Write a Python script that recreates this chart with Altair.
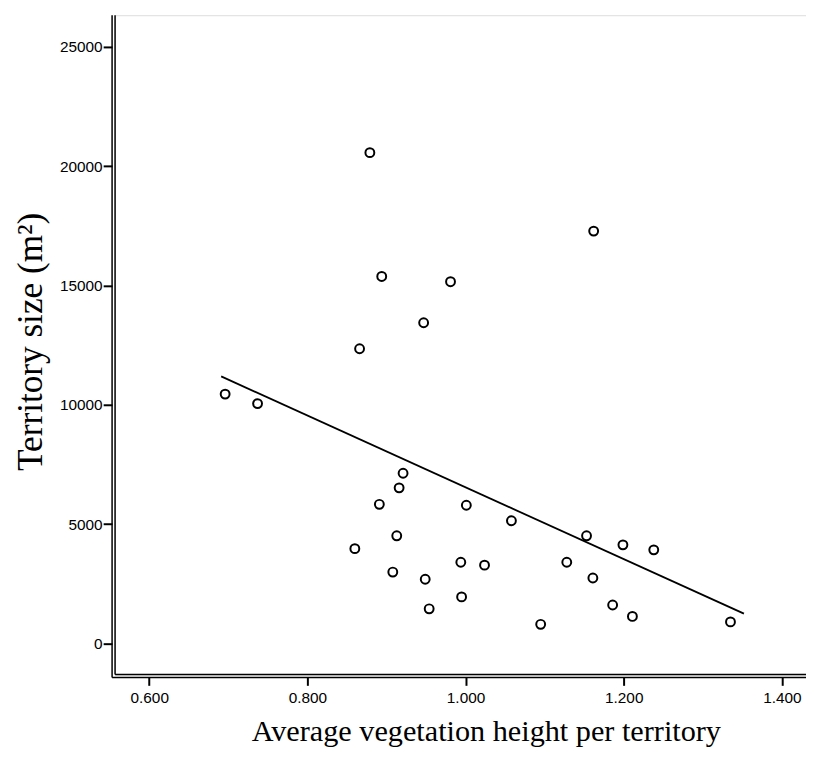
import altair as alt
import pandas as pd

# Average vegetation height per territory (x) and territory size in m² (y)
veg_height = [0.879, 0.894, 0.981, 0.947, 0.866, 0.696, 0.737, 0.921, 0.916, 0.891,
              1.001, 1.058, 0.913, 0.860, 0.994, 1.024, 0.908, 0.949, 0.995, 0.954,
              1.095, 1.162, 1.153, 1.199, 1.238, 1.128, 1.161, 1.186, 1.211, 1.335]
territory = [20570, 15380, 15160, 13440, 12350, 10450, 10050, 7130, 6520, 5830,
             5790, 5140, 4510, 3970, 3400, 3280, 2990, 2690, 1950, 1450,
             800, 17280, 4510, 4130, 3920, 3400, 2740, 1610, 1130, 900]
x_ticks = [0.6, 0.8, 1.0, 1.2, 1.4]
y_ticks = [0, 5000, 10000, 15000, 20000, 25000]
fit_extent = [0.691, 1.352]

df = pd.DataFrame({"x": veg_height, "y": territory})

W, H = 697, 665
OFF = 3

xscale = alt.Scale(domain=[0.5568, 1.4305], nice=False, zero=False)
yscale = alt.Scale(domain=[-1300, 26330], nice=False, zero=False)

xaxis = alt.Axis(
    values=x_ticks, format=".3f", domain=False, grid=False, offset=OFF,
    tickSize=8, tickWidth=2, tickColor="black",
    labelFont="Liberation Sans", labelFontSize=15.5, labelColor="black", labelPadding=5,
    title="Average vegetation height per territory",
    titleFont="Liberation Serif", titleFontSize=30.5, titleFontWeight="normal",
    titleColor="black", titleX=374, titleY=64, titleBaseline="alphabetic",
    titleAlign="center", titleAnchor="middle",
)
yaxis = alt.Axis(
    values=y_ticks, format="d", domain=False, grid=False, offset=OFF,
    tickSize=9, tickWidth=2, tickColor="black",
    labelFont="Liberation Sans", labelFontSize=15.5, labelColor="black", labelPadding=1,
    title="Territory size (m²)",
    titleFont="Liberation Serif", titleFontSize=35.5, titleFontWeight="normal",
    titleColor="black", titleX=-71, titleY=329, titleBaseline="alphabetic",
    titleAlign="center", titleAnchor="middle", titleAngle=270,
)

base = alt.Chart(df)

points = base.mark_point(
    shape="circle", filled=False, color="black", size=80, strokeWidth=2, opacity=1
).encode(
    x=alt.X("x:Q", scale=xscale, axis=xaxis),
    y=alt.Y("y:Q", scale=yscale, axis=yaxis),
)

fit = base.transform_regression("x", "y", extent=fit_extent).mark_line(
    color="black", strokeWidth=1.8
).encode(
    x=alt.X("x:Q", scale=xscale),
    y=alt.Y("y:Q", scale=yscale),
)

one = alt.Chart(pd.DataFrame({"k": [0]}))
line_style = dict(color="black", strokeWidth=1.5)
inner_y = one.mark_rule(**line_style).encode(x=alt.value(0), y=alt.value(0), y2=alt.value(H))
outer_y = one.mark_rule(**line_style).encode(x=alt.value(-OFF), y=alt.value(0), y2=alt.value(H + OFF))
inner_x = one.mark_rule(**line_style).encode(y=alt.value(H), x=alt.value(0), x2=alt.value(W))
outer_x = one.mark_rule(**line_style).encode(y=alt.value(H + OFF), x=alt.value(-OFF), x2=alt.value(W))

chart = alt.layer(fit, points, inner_y, outer_y, inner_x, outer_x).properties(
    width=W, height=H,
    autosize=alt.AutoSizeParams(type="none"),
    padding={"left": 108, "top": 4, "right": 0, "bottom": 75},
).configure_view(stroke=None).configure(background="white")

chart.save("out.html", embed_options={"renderer": "svg", "actions": False})
